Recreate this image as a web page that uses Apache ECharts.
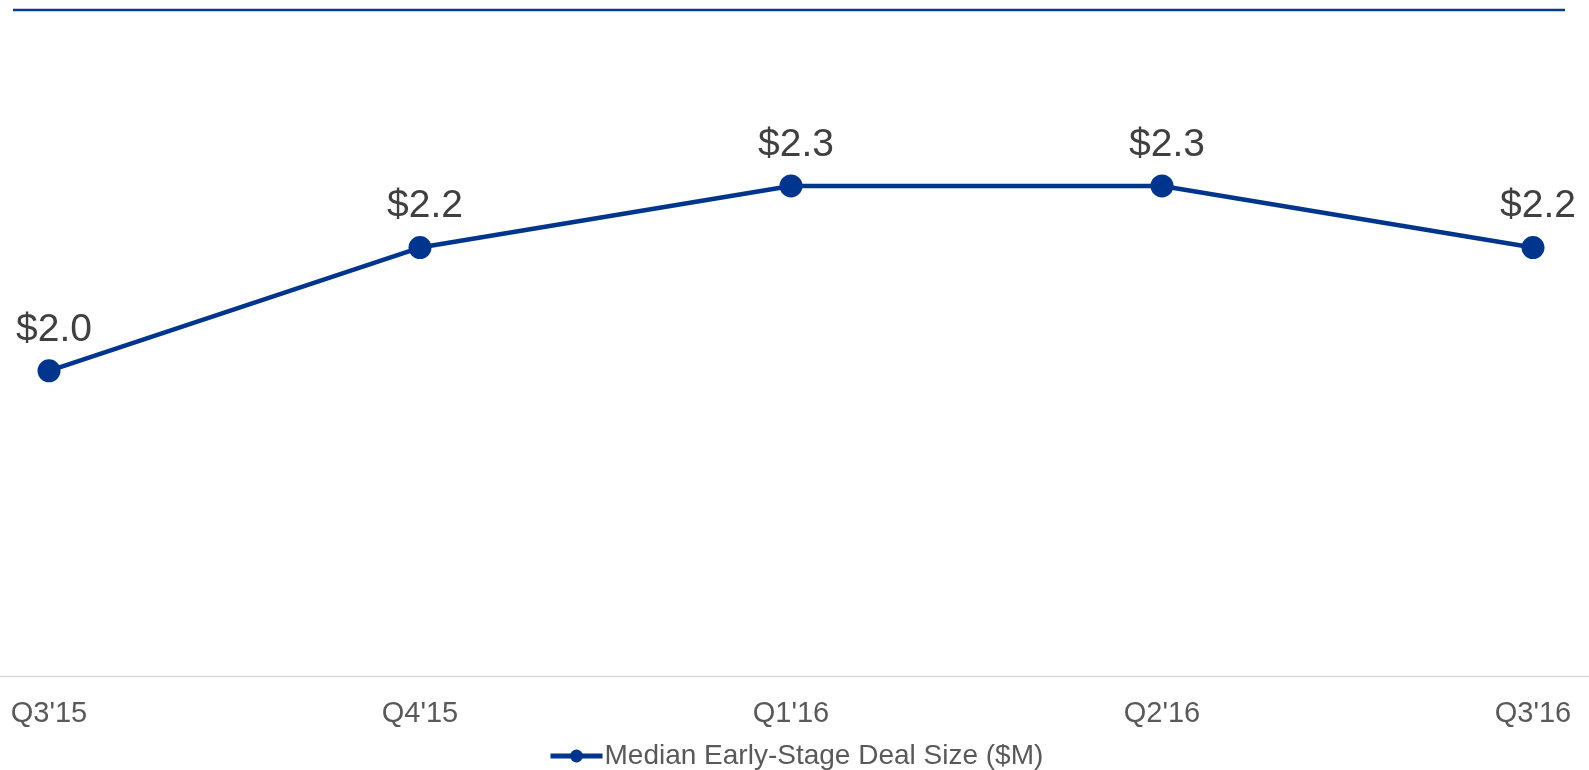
<!DOCTYPE html>
<html>
<head>
<meta charset="utf-8">
<script src="https://cdn.jsdelivr.net/npm/echarts@6/dist/echarts.min.js"></script>
<style>
  html, body { margin: 0; padding: 0; background: #fff; }
  #main { width: 1589px; height: 770px; }
</style>
</head>
<body>
<div id="main"></div>
<script>
  var quarters = ["Q3'15", "Q4'15", "Q1'16", "Q2'16", "Q3'16"];
  var dealSize = [2.0, 2.2, 2.3, 2.3, 2.2];
  var seriesName = 'Median Early-Stage Deal Size ($M)';

  var blue = '#00358E';
  var font = "'Liberation Sans', Arial, sans-serif";

  var myChart = echarts.init(document.getElementById('main'));
  var option = {
    animation: false,
    textStyle: { fontFamily: font },
    grid: { left: 49, right: 56, top: 1, bottom: 91, containLabel: false },
    legend: {
      data: [seriesName],
      left: 543,
      top: 737,
      itemWidth: 52,
      itemHeight: 16,
      itemGap: 10,
      lineStyle: { width: 5 },
      textStyle: { fontSize: 28, color: '#595959', fontFamily: font, padding: [0, 0, 0, -3] }
    },
    xAxis: {
      type: 'category',
      data: quarters,
      boundaryGap: false,
      axisLine: { show: false },
      axisTick: { show: false },
      axisLabel: { fontSize: 29, color: '#595959', margin: 20, fontFamily: font }
    },
    yAxis: {
      type: 'value',
      min: 1.5,
      max: 2.6,
      show: false,
      splitLine: { show: false }
    },
    graphic: [
      { type: 'line', shape: { x1: 0, y1: 676.5, x2: 1589, y2: 676.5 }, style: { stroke: '#D9D9D9', lineWidth: 1.5 }, silent: true },
      { type: 'line', shape: { x1: 13, y1: 10, x2: 1565, y2: 10 }, style: { stroke: '#003C90', lineWidth: 2.5 }, silent: true }
    ],
    series: [{
      name: seriesName,
      type: 'line',
      data: dealSize,
      symbol: 'circle',
      symbolSize: 23,
      lineStyle: { color: blue, width: 4.5 },
      itemStyle: { color: blue },
      label: {
        show: true,
        position: 'top',
        distance: 10,
        offset: [5, 0],
        fontSize: 39,
        color: '#404040',
        fontFamily: font,
        formatter: function (p) { return '$' + p.value.toFixed(1); }
      }
    }]
  };
  myChart.setOption(option, true);
</script>
</body>
</html>
